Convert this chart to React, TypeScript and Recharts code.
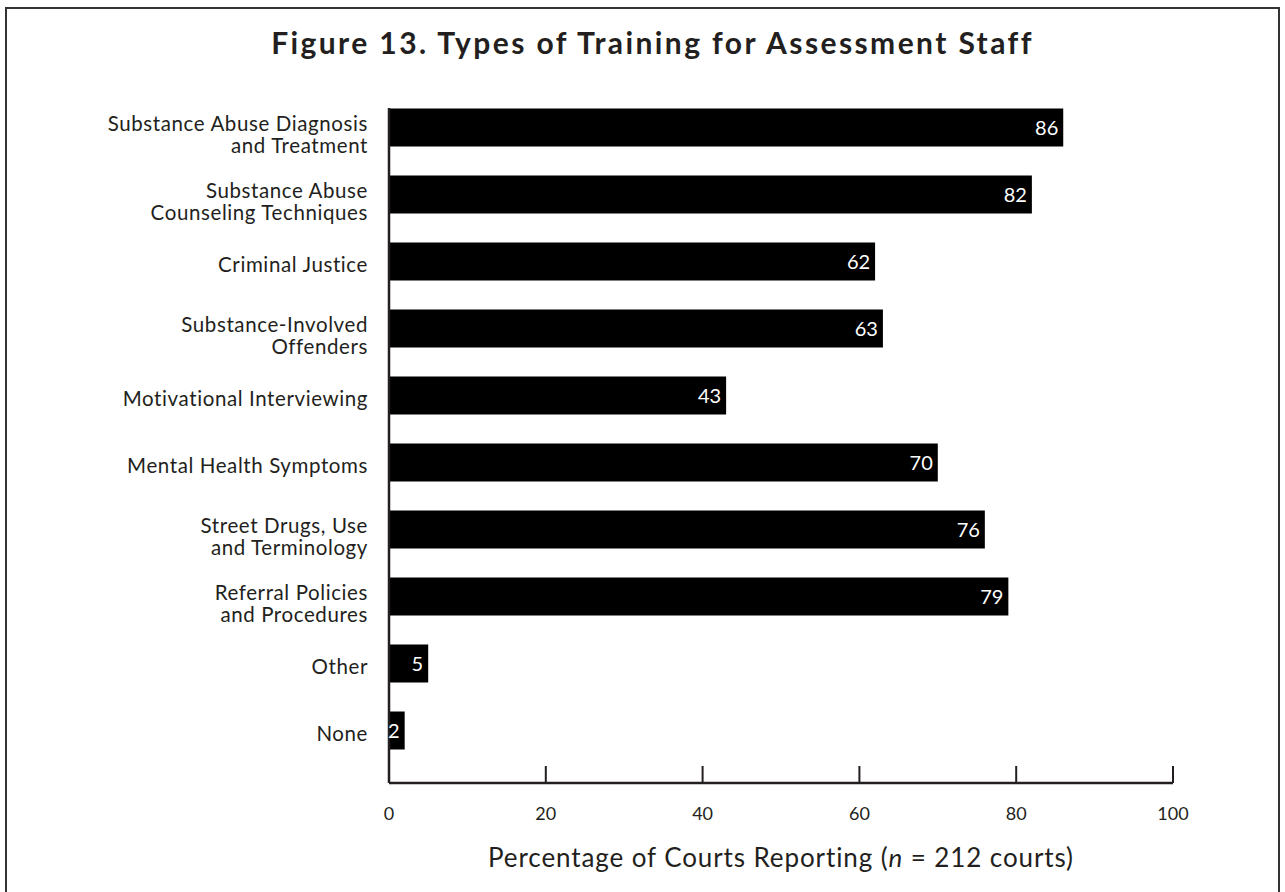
import React from "react";
import { BarChart, Bar, XAxis, YAxis, LabelList, Label } from "recharts";

const categories: string[] = [
  "Substance Abuse Diagnosis\nand Treatment",
  "Substance Abuse\nCounseling Techniques",
  "Criminal Justice",
  "Substance-Involved\nOffenders",
  "Motivational Interviewing",
  "Mental Health Symptoms",
  "Street Drugs, Use\nand Terminology",
  "Referral Policies\nand Procedures",
  "Other",
  "None",
];
const values: number[] = [86, 82, 62, 63, 43, 70, 76, 79, 5, 2];
const xTicks: number[] = [0, 20, 40, 60, 80, 100];

const data = categories.map((c, i) => ({ name: c, value: values[i] }));

const FONT = "Lato, 'Open Sans', sans-serif";
const INK = "#231f20";

const YTick = (props: any) => {
  const { x, y, payload } = props;
  const lines = String(payload.value).split("\n");
  const common = { textAnchor: "end" as const, fontSize: 20.5, fontFamily: FONT, fill: INK, letterSpacing: 0.6 };
  if (lines.length === 1) {
    return (
      <text x={x} y={y + 11} {...common}>
        {lines[0]}
      </text>
    );
  }
  return (
    <text x={x} {...common}>
      <tspan x={x} y={y + 4}>{lines[0]}</tspan>
      <tspan x={x} y={y + 25.5}>{lines[1]}</tspan>
    </text>
  );
};

const XTick = (props: any) => {
  const { x, y, payload } = props;
  return (
    <g>
      {payload.value !== 0 && (
        <line x1={x} x2={x} y1={y - 17} y2={y} stroke={INK} strokeWidth={2} />
      )}
      <text x={x} y={y + 37} textAnchor="middle" fontSize={18} fontFamily={FONT} fill={INK}>
        {payload.value}
      </text>
    </g>
  );
};

const AxisTitle = (props: any) => {
  const vb = props.viewBox || {};
  const cx = (vb.x || 0) + (vb.width || 0) / 2;
  return (
    <text x={cx} y={867} textAnchor="middle" fontSize={26} fontFamily={FONT} fill={INK} letterSpacing={0.9}>
      Percentage of Courts Reporting (<tspan fontStyle="italic">n</tspan> = 212 courts)
    </text>
  );
};

export default function App() {
  return (
    <div style={{ position: "absolute", left: 0, top: 0, width: 1285, height: 892, overflow: "hidden", background: "#fff" }}>
      <div
        style={{
          position: "absolute",
          left: 5,
          top: 7,
          width: 1271,
          height: 920,
          border: "2px solid #333",
        }}
      />
      <div
        style={{
          position: "absolute",
          left: 0,
          top: 24,
          width: 1305,
          textAlign: "center",
          fontFamily: FONT,
          fontWeight: 700,
          fontSize: 30,
          letterSpacing: 2.4,
          color: INK,
          lineHeight: "36px",
        }}
      >
        Figure 13. Types of Training for Assessment Staff
      </div>
      <div style={{ position: "absolute", left: 0, top: 0 }}>
        <BarChart
          width={1285}
          height={892}
          data={data}
          layout="vertical"
          margin={{ top: 108, right: 112, bottom: 49, left: 0 }}
        >
          <XAxis
            type="number"
            domain={[0, 100]}
            ticks={xTicks}
            interval={0}
            height={60}
            tickLine={false}
            tickSize={0}
            tickMargin={0}
            axisLine={{ stroke: INK, strokeWidth: 2.5 }}
            tick={<XTick />}
          >
            <Label content={<AxisTitle />} />
          </XAxis>
          <YAxis
            type="category"
            dataKey="name"
            width={389}
            interval={0}
            tickLine={false}
            tickSize={0}
            tickMargin={21}
            padding={{ top: -14.5, bottom: 19.5 }}
            axisLine={{ stroke: INK, strokeWidth: 2.5 }}
            tick={<YTick />}
          />
          <Bar dataKey="value" fill="#000" barSize={38} isAnimationActive={false}>
            <LabelList
              dataKey="value"
              position="insideRight"
              offset={5}
              fill="#fff"
              fontSize={20}
              fontFamily={FONT}
            />
          </Bar>
        </BarChart>
      </div>
    </div>
  );
}
